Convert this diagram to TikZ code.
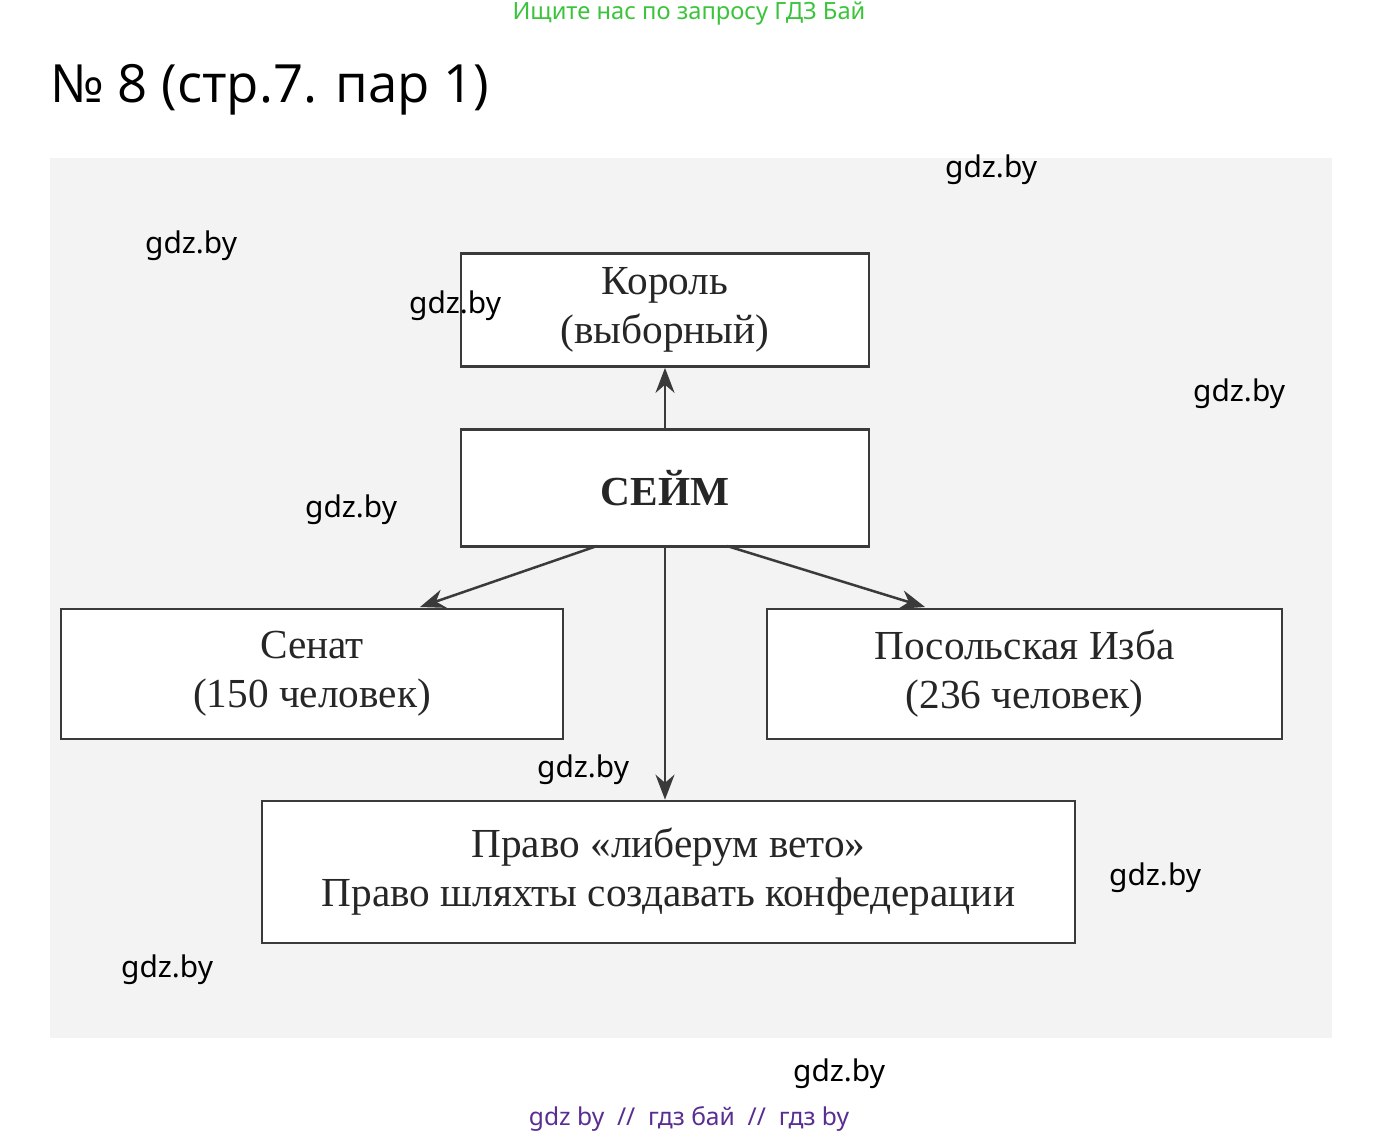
\documentclass[tikz,border=0pt]{standalone}
\usepackage{fontspec}
\setmainfont{Liberation Serif}
\newfontfamily\wmfont{Noto Sans}
\newfontfamily\ttlfont{Open Sans}
\usetikzlibrary{arrows.meta}
\definecolor{bggrey}{HTML}{F3F3F3}
\definecolor{lineg}{HTML}{3A3A3A}
\definecolor{wmgreen}{HTML}{3BC43B}
\definecolor{wmpurple}{HTML}{5A2D91}
\begin{document}
\begin{tikzpicture}[x=0.02cm,y=-0.02cm,
    box/.style={draw=lineg,line width=0.055cm,fill=white,inner sep=0pt,
      align=center,font=\fontsize{23.5}{28}\selectfont,text=black!85},
    arr/.style={draw=lineg,line width=0.05cm,-{Stealth[length=0.5cm,width=0.38cm]}},
    wm/.style={font=\wmfont\fontsize{17}{20}\selectfont,anchor=west}]
        \useasboundingbox (0,0) rectangle (1379,1136);
        \fill[bggrey] (50,158) rectangle (1332,1038);
        \node[font=\wmfont\fontsize{13.5}{16}\selectfont,text=wmgreen] (top) at (689,14) {Ищите нас по запросу ГДЗ Бай};
        \node[font=\ttlfont\fontsize{30}{35}\selectfont,anchor=west,inner sep=0pt] (ttl) at (50,90) {№ 8 (стр.7. пар 1)};
        % boxes
        \node[box,minimum width=8.16cm,minimum height=2.26cm] (korol) at (665,310) {Король\\(выборный)};
        \node[box,minimum width=8.16cm,minimum height=2.34cm,font=\bfseries\fontsize{23.5}{28}\selectfont] (seim) at (665,488) {СЕЙМ};
        \node[box,minimum width=10.04cm,minimum height=2.6cm] (senat) at (312,674) {Сенат\\(150 человек)};
        \node[box,minimum width=10.3cm,minimum height=2.6cm] (izba) at (1024.5,674) {Посольская Изба\\(236 человек)};
        \node[box,minimum width=16.26cm,minimum height=2.84cm] (pravo) at (668.5,872) {Право «либерум вето»\\Право шляхты создавать конфедерации};
        % arrows
        \draw[arr] (seim.north) -- (korol.south);
        \draw[arr] (597,546) -- (420,607);
        \draw[arr] (727,546) -- (925,607);
        \draw[arr] (seim.south) -- (seim.south |- pravo.north);
        % watermarks
        \foreach \px/\py in {939/170,139/246,403/306,1187/394,299/510,531/770,1103/878,115/970,787/1074}
          \node[wm] at (\px,\py) {gdz.by};
        \node[font=\wmfont\fontsize{14}{16}\selectfont,text=wmpurple] (bot) at (689,1119) {gdz by \ // \ гдз бай \ // \ гдз by};
\end{tikzpicture}
\end{document}
